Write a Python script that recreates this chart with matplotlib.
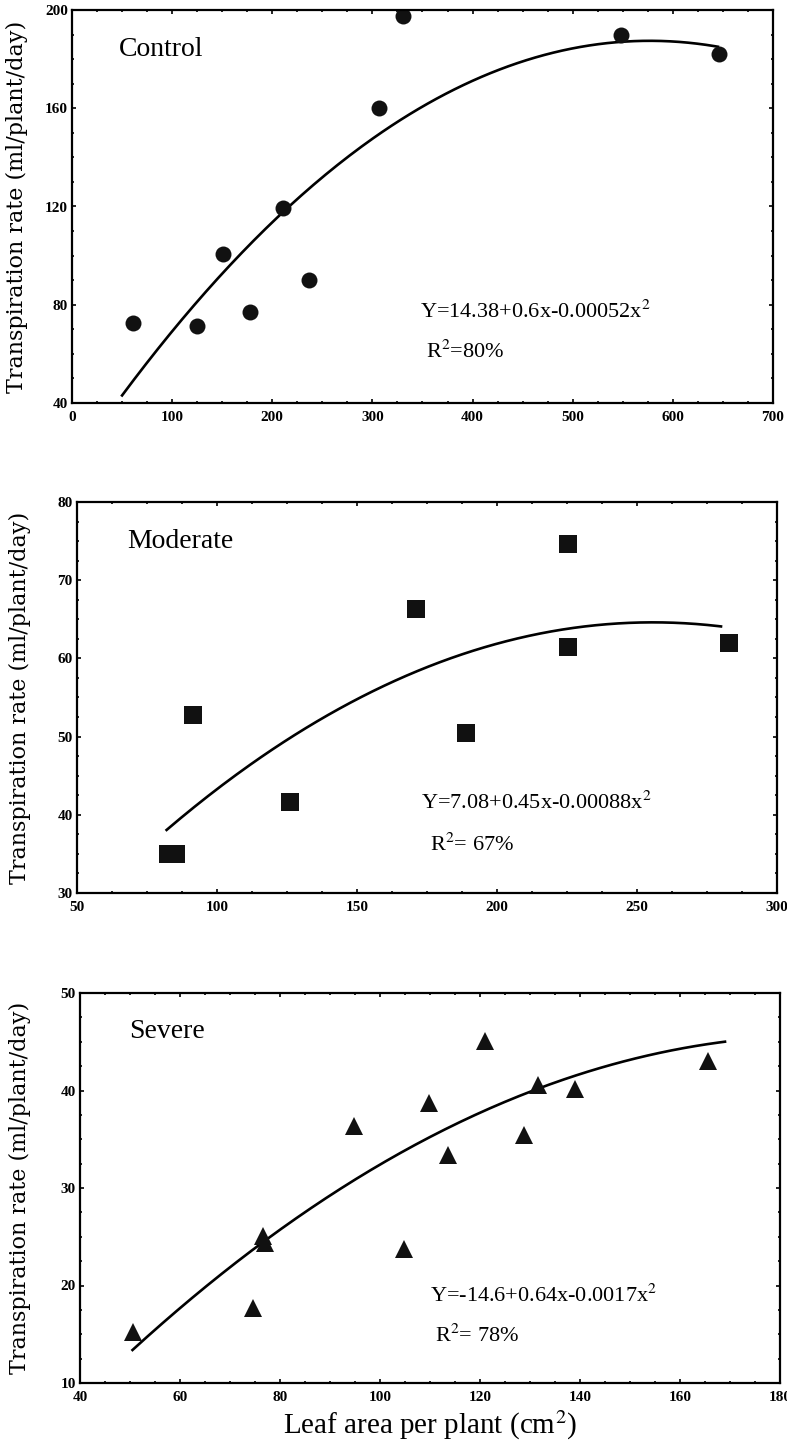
import numpy as np
import matplotlib
matplotlib.use("Agg")
import matplotlib.pyplot as plt
from matplotlib.ticker import AutoMinorLocator

plt.rcParams["font.family"] = ["Liberation Serif", "DejaVu Serif"]
plt.rcParams["mathtext.fontset"] = "stix"

# Control (circles)
control_x = [61, 125, 151, 178, 211, 237, 307, 331, 548, 646]
control_y = [72.5, 71.5, 100.5, 77, 119.5, 90, 160, 197.5, 190, 182]
control_coef = [14.38, 0.6, -0.00052]

# Moderate (squares)
moderate_x = [82.5, 85.5, 91.5, 126, 171, 189, 225.5, 225.5, 283]
moderate_y = [35, 35, 52.7, 41.7, 66.3, 50.5, 74.6, 61.4, 62]
moderate_coef = [7.08, 0.45, -0.00088]

# Severe (triangles)
severe_x = [50.5, 74.5, 76.5, 77, 94.8, 104.8, 109.8, 113.5, 121, 128.8, 131.5, 139, 165.5]
severe_y = [15.2, 17.7, 25.1, 24.4, 36.4, 23.7, 38.7, 33.4, 45.1, 35.4, 40.6, 40.2, 43]
severe_coef = [-14.6, 0.64, -0.0017]

panels = [
    dict(name="Control", x=control_x, y=control_y, coef=control_coef, marker="o", ms=11.5,
         fit_range=(50, 645), xlim=(0, 700), ylim=(40, 200), xticks=range(0, 701, 100),
         yticks=range(40, 201, 40), eq="Y=14.38+0.6x-0.00052x$^2$", r2="R$^2$=80%",
         name_pos=(47, 184), eq_pos=(348, 77), r2_pos=(353, 61),
         rect=[72 / 787, 1 - 403 / 1447, 701 / 787, 393 / 1447], ylab_x=-0.063),
    dict(name="Moderate", x=moderate_x, y=moderate_y, coef=moderate_coef, marker="s", ms=12.5,
         fit_range=(82, 280), xlim=(50, 300), ylim=(30, 80), xticks=range(50, 301, 50),
         yticks=range(30, 81, 10), eq="Y=7.08+0.45x-0.00088x$^2$", r2="R$^2$= 67%",
         name_pos=(68, 75), eq_pos=(173, 41.6), r2_pos=(176, 36.2),
         rect=[77 / 787, 1 - 893 / 1447, 700 / 787, 391 / 1447], ylab_x=-0.066),
    dict(name="Severe", x=severe_x, y=severe_y, coef=severe_coef, marker="^", ms=12.5,
         fit_range=(50.5, 169), xlim=(40, 180), ylim=(10, 50), xticks=range(40, 181, 20),
         yticks=range(10, 51, 10), eq="Y=-14.6+0.64x-0.0017x$^2$", r2="R$^2$= 78%",
         name_pos=(49.8, 46), eq_pos=(110, 19), r2_pos=(111, 14.8),
         rect=[80 / 787, 1 - 1383 / 1447, 700 / 787, 390 / 1447], ylab_x=-0.07),
]

fig = plt.figure(figsize=(7.87, 14.47), dpi=100)

for i, p in enumerate(panels):
    ax = fig.add_axes(p["rect"])
    xs = np.linspace(p["fit_range"][0], p["fit_range"][1], 200)
    a, b, c = p["coef"]
    ax.plot(xs, a + b * xs + c * xs ** 2, color="black", lw=1.9)
    ax.plot(p["x"], p["y"], linestyle="none", marker=p["marker"], ms=p["ms"],
            color="#111111", markeredgewidth=0)
    ax.set_xlim(*p["xlim"])
    ax.set_ylim(*p["ylim"])
    ax.set_xticks(list(p["xticks"]))
    ax.set_yticks(list(p["yticks"]))
    ax.xaxis.set_minor_locator(AutoMinorLocator(4))
    ax.yaxis.set_minor_locator(AutoMinorLocator(4))
    ax.tick_params(which="both", direction="in", top=True, right=True, width=1.2)
    ax.tick_params(which="major", length=3, labelsize=11, pad=3)
    ax.tick_params(axis="x", which="major", pad=6)
    ax.tick_params(which="minor", length=1.5)
    for lab in ax.get_xticklabels() + ax.get_yticklabels():
        lab.set_fontweight("bold")
    for s in ax.spines.values():
        s.set_linewidth(1.6)
    ax.text(*p["name_pos"], p["name"], fontsize=20, va="center", ha="left")
    ax.text(*p["eq_pos"], p["eq"], fontsize=16, va="center", ha="left")
    ax.text(*p["r2_pos"], p["r2"], fontsize=16, va="center", ha="left")
    ax.set_ylabel("Transpiration rate (ml/plant/day)", fontsize=16, family="DejaVu Serif")
    ax.yaxis.set_label_coords(p["ylab_x"], 0.5)
    if i == 2:
        ax.set_xlabel("Leaf area per plant (cm$^2$)", fontsize=21, labelpad=3)

fig.savefig("out.png", dpi=100)
